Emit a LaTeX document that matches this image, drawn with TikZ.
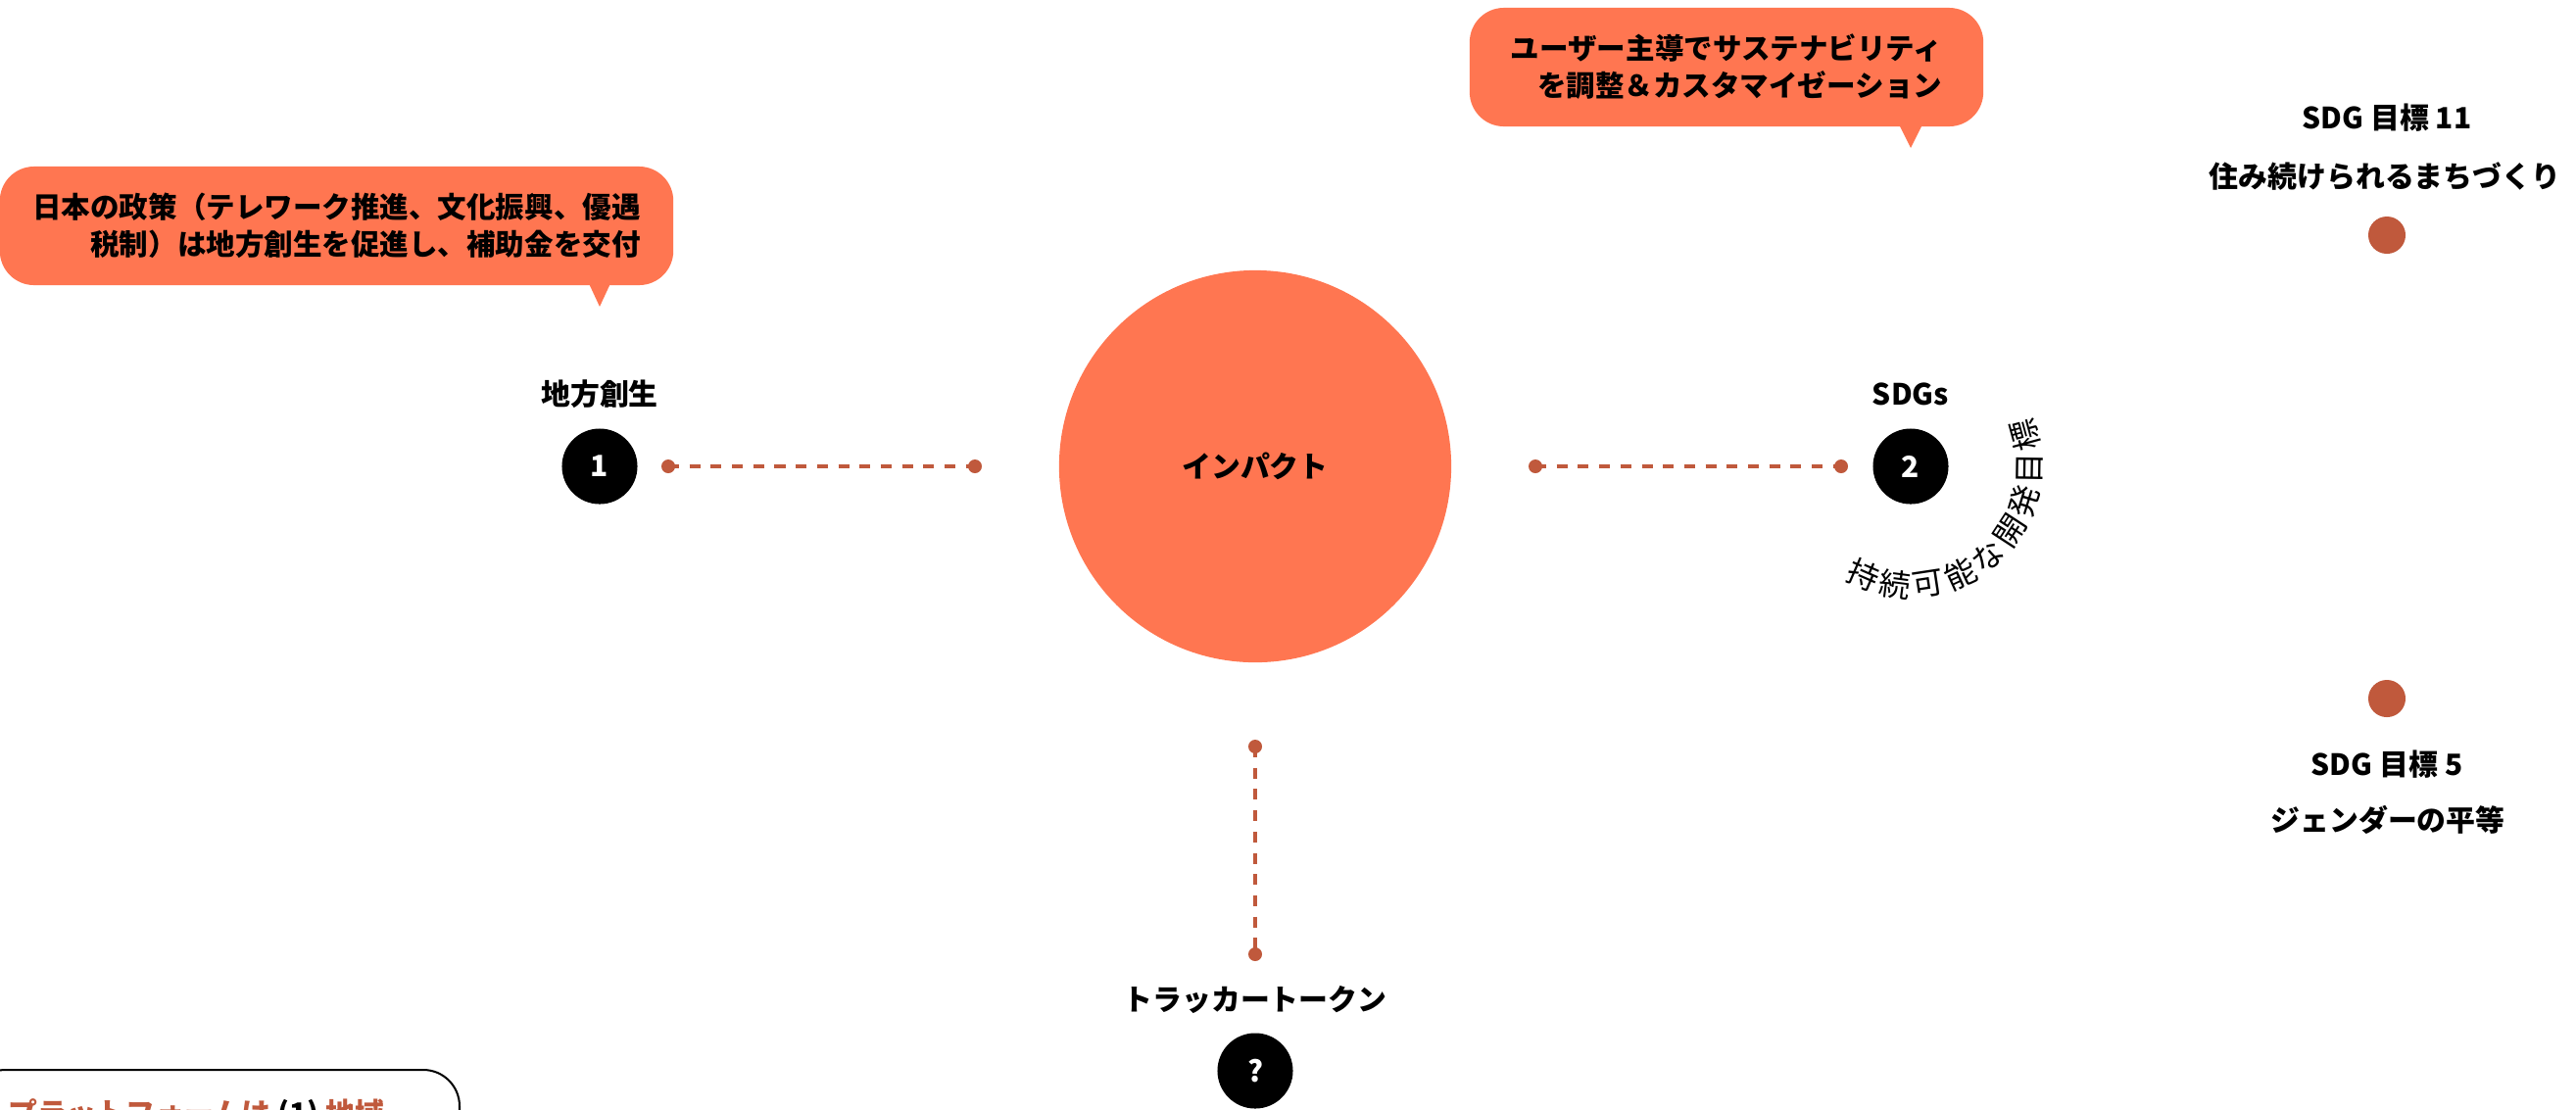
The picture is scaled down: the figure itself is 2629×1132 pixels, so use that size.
\documentclass[tikz,border=0pt]{standalone}
\usepackage{fontspec}
\setmainfont{Noto Sans CJK JP}
\definecolor{coral}{HTML}{FF7651}
\definecolor{rust}{HTML}{C0593C}
\begin{document}
\begin{tikzpicture}[x=0.01cm,y=-0.01cm,
  lbl/.style={font=\fontsize{8.5}{10}\selectfont\bfseries,inner sep=0pt},
  numc/.style={circle,fill=black,minimum size=0.77cm,inner sep=0pt,text=white,font=\fontsize{8.5}{10}\selectfont\bfseries},
  dot/.style={circle,fill=rust,minimum size=0.14cm,inner sep=0pt},
  bigdot/.style={circle,fill=rust,minimum size=0.38cm,inner sep=0pt},
  conn/.style={rust,line width=1pt,dash pattern=on 3.13pt off 3.04pt},
  bubble/.style={fill=coral,rounded corners=0.35cm,align=right,minimum height=1.21cm,inner sep=0pt,font=\fontsize{8.4}{10.8}\selectfont\bfseries},
  arcch/.style={font=\fontsize{9.1}{10}\selectfont,inner sep=0pt}
]
\useasboundingbox (0,0) rectangle (2629,1132);
\fill[white] (0,0) rectangle (2629,1132);

% speech bubbles
\node[bubble,minimum width=6.87cm] (bubL) at (343.5,230.5) {日本の政策（テレワーク推進、文化振興、優遇\\税制）は地方創生を促進し、補助金を交付};
\coordinate (tipL) at (612,313);
\fill[coral] (tipL) -- (599,285) -- (625,285) -- cycle;

\node[bubble,minimum width=5.24cm] (bubR) at (1762,68.5) {ユーザー主導でサステナビリティ\\を調整＆カスタマイゼーション};
\coordinate (tipR) at (1950,151);
\fill[coral] (tipR) -- (1936,123) -- (1964,123) -- cycle;

% main nodes
\node[circle,fill=coral,minimum size=4cm,inner sep=0pt,font=\fontsize{8.5}{10}\selectfont\bfseries] (impact) at (1281,476) {\raisebox{-0.2ex}{インパクト}};
\node[numc] (n1) at (612,476) {1};
\node[lbl] (l1) at (612,402) {地方創生};
\node[numc] (n2) at (1950,476) {2};
\node[lbl] (l2) at (1950,402) {SDGs};
\node[numc] (n3) at (1281,1093) {?};
\node[lbl] (l3) at (1281,1020) {トラッカートークン};

% connectors
\node[dot] (d1a) at (682,476) {};
\node[dot] (d1b) at (995,476) {};
\node[dot] (d2a) at (1567,476) {};
\node[dot] (d2b) at (1879,476) {};
\node[dot] (d3a) at (1281,762) {};
\node[dot] (d3b) at (1281,974) {};
\draw[conn] (d1a.center) -- (d1b.center);
\draw[conn] (d2a.center) -- (d2b.center);
\draw[conn] (d3a.center) -- (d3b.center);

% curved text around node 2
\foreach \ch [count=\i from 0] in {持,続,可,能,な,開,発,目,標}
  \node[arcch,rotate={-113.6+16.1*\i+90}] (arc\i) at ([shift={({-113.6+16.1*\i}:1.21cm)}]n2.center) {\ch};

% SDG goals
\node[lbl] (g11a) at (2436,120) {SDG 目標 11};
\node[lbl] (g11b) at (2434,180) {住み続けられるまちづくり};
\node[bigdot] (g11) at (2436,240) {};
\node[bigdot] (g5) at (2436,713) {};
\node[lbl] (g5a) at (2436,780) {SDG 目標 5};
\node[lbl] (g5b) at (2437,837) {ジェンダーの平等};

% platform box (cut off)
\node[draw,line width=0.57pt,rounded corners=0.37cm,minimum width=5cm,minimum height=1.5cm,anchor=north east,inner sep=0pt] (plat) at (470,1091) {};
\node[anchor=north west,font=\fontsize{8.5}{10}\selectfont\bfseries,inner sep=0pt] (plattext) at (8,1121) {\textcolor{rust}{プラットフォームは} (1) \textcolor{rust}{地域}};
\end{tikzpicture}
\end{document}
